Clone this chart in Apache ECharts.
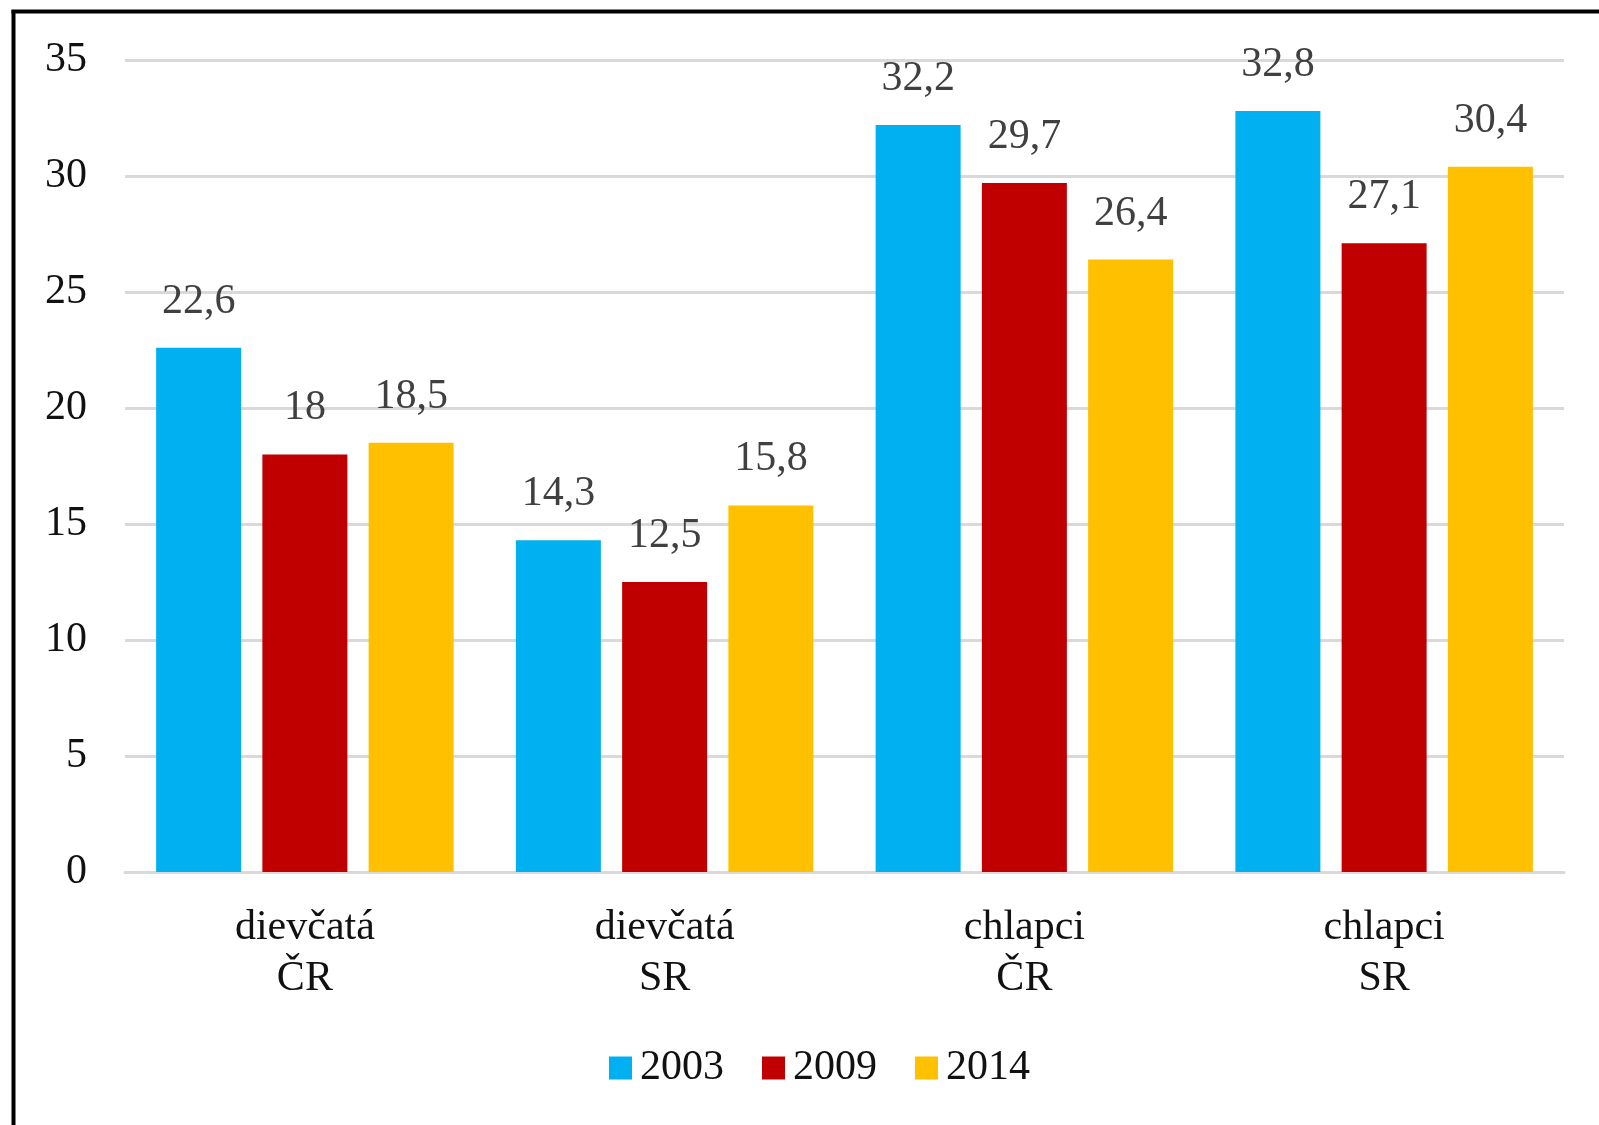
<!DOCTYPE html>
<html>
<head>
<meta charset="utf-8">
<script src="https://cdn.jsdelivr.net/npm/echarts@6/dist/echarts.min.js"></script>
<style>
html,body{margin:0;padding:0;background:#fff;}
#c{width:1599px;height:1125px;}
</style>
</head>
<body>
<div id="c"></div>
<script>
const categories = ['dievčatá\nČR', 'dievčatá\nSR', 'chlapci\nČR', 'chlapci\nSR'];
const seriesNames = ['2003', '2009', '2014'];
const values2003 = [22.6, 14.3, 32.2, 32.8];
const values2009 = [18, 12.5, 29.7, 27.1];
const values2014 = [18.5, 15.8, 26.4, 30.4];
const colors = ['#00B0F0', '#C00000', '#FFC000'];

const font = '"Liberation Serif", "Times New Roman", serif';
const chart = echarts.init(document.getElementById('c'), null, {renderer: 'canvas'});

function mkSeries(name, data, color) {
  return {
    name: name,
    type: 'bar',
    data: data,
    barWidth: 85,
    barGap: '25%',
    itemStyle: {color: color},
    label: {
      show: true,
      position: 'top',
      distance: 25,
      fontFamily: font,
      fontSize: 42,
      color: '#404040',
      formatter: p => String(p.value).replace('.', ',')
    }
  };
}

chart.setOption({
  animation: false,
  backgroundColor: '#fff',
  textStyle: {fontFamily: font},
  grid: {left: 125, right: 35, top: 60, bottom: 253, containLabel: false},
  legend: {
    left: 604,
    top: 1042,
    itemWidth: 23,
    itemHeight: 23,
    itemGap: 38,
    icon: 'rect',
    textStyle: {fontFamily: font, fontSize: 42, color: '#111', padding: [0, 0, 0, 3]},
    data: seriesNames
  },
  xAxis: {
    type: 'category',
    data: categories,
    axisLine: {show: true, lineStyle: {color: '#d9d9d9', width: 3}},
    axisTick: {show: false},
    axisLabel: {fontFamily: font, fontSize: 42, color: '#111', margin: 30, lineHeight: 51}
  },
  yAxis: {
    type: 'value',
    min: 0,
    max: 35,
    interval: 5,
    axisLine: {show: false},
    axisTick: {show: false},
    splitLine: {lineStyle: {color: '#d9d9d9', width: 3}},
    axisLabel: {fontFamily: font, fontSize: 42, color: '#111', margin: 38}
  },
  graphic: [
    {type: 'line', shape: {x1: 13.5, y1: 10, x2: 13.5, y2: 1125}, style: {stroke: '#000', lineWidth: 4}},
    {type: 'line', shape: {x1: 11.5, y1: 11.5, x2: 1599, y2: 11.5}, style: {stroke: '#000', lineWidth: 4}}
  ],
  series: [
    mkSeries(seriesNames[0], values2003, colors[0]),
    mkSeries(seriesNames[1], values2009, colors[1]),
    mkSeries(seriesNames[2], values2014, colors[2])
  ]
});
</script>
</body>
</html>
